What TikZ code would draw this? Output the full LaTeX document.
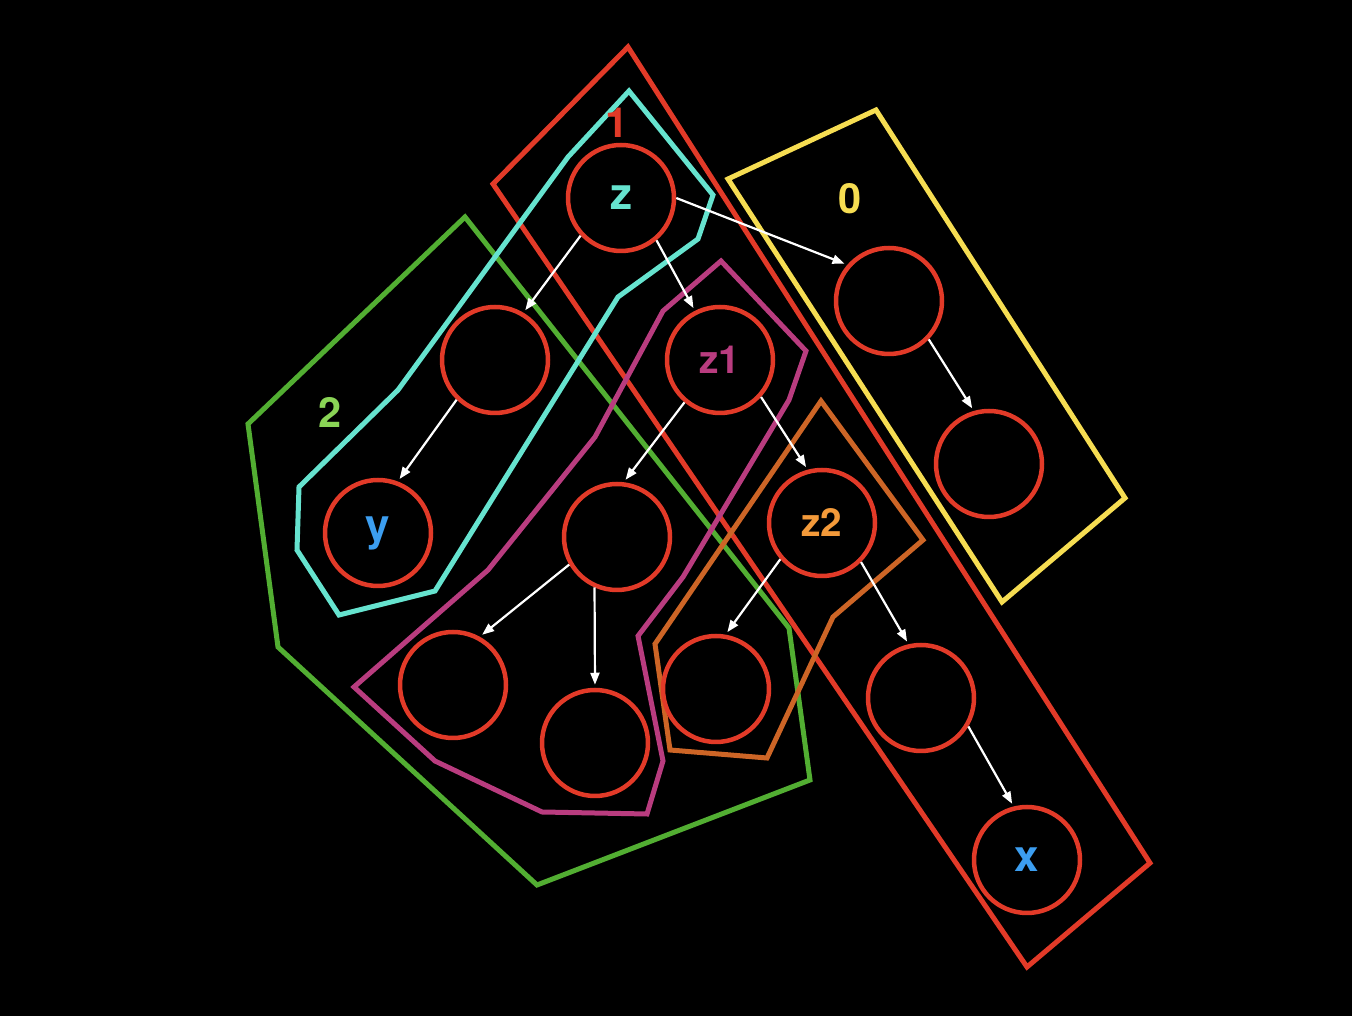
\documentclass[tikz,border=0pt]{standalone}
\usepackage{fontspec}
\setmainfont{TeX Gyre Heros}
\usetikzlibrary{arrows.meta}
\definecolor{ndred}{HTML}{E23A28}
\definecolor{grpcyan}{HTML}{66E3CF}
\definecolor{grpyellow}{HTML}{F6DD52}
\definecolor{grpgreen}{HTML}{52AE32}
\definecolor{lblgreen}{HTML}{8AD456}
\definecolor{grpmag}{HTML}{B93C7F}
\definecolor{grporange}{HTML}{CD6526}
\definecolor{lblorange}{HTML}{F39A3A}
\definecolor{lblblue}{HTML}{3C9EF0}
\tikzset{
  nd/.style     = {circle, draw=ndred, line width=0.45mm, minimum size=10.6mm,
                   inner sep=0pt, font=\fontsize{12.5}{14}\selectfont\bfseries},
  ndsm/.style   = {nd, font=\fontsize{11}{13}\selectfont\bfseries},
  grp/.style    = {line width=0.5mm, line join=miter},
  grplbl/.style = {font=\fontsize{11.8}{14}\selectfont\bfseries, inner sep=0pt},
  flow/.style   = {-{Triangle[length=1.2mm, width=0.9mm]}, draw=white,
                   line width=0.22mm, shorten >=0.3mm},
}
\begin{document}
\begin{tikzpicture}[x=0.1mm, y=-0.1mm]
    \fill[black] (0,0) rectangle (1352,1016);
    \useasboundingbox (0,0) rectangle (1352,1016);

    % Groups
    \draw[grp, draw=ndred]     (628,47) -- (1150,863) -- (1027,967) -- (493,184) -- cycle;
    \draw[grp, draw=grpyellow] (876,110) -- (1125,498) -- (1002,602) -- (728,179) -- cycle;
    \draw[grp, draw=grpgreen]  (465,217) -- (789,628) -- (810,780) -- (537,885)
                               -- (278,647) -- (248,424) -- cycle;
    \draw[grp, draw=grpcyan]   (629,91) -- (713,195) -- (698,239) -- (618,297) -- (435,591)
                               -- (339,615) -- (297,550) -- (299,487) -- (398,390)
                               -- (568,157) -- cycle;
    \draw[grp, draw=grpmag]    (721,261) -- (806,351) -- (789,400) -- (683,577) -- (638,636)
                               -- (663,761) -- (647,814) -- (542,812) -- (435,761)
                               -- (354,687) -- (488,570) -- (595,437) -- (663,311) -- cycle;
    \draw[grp, draw=grporange] (821,401) -- (923,540) -- (833,617) -- (767,758)
                               -- (670,750) -- (655,644) -- cycle;

    \node[grplbl, text=ndred]     (l1) at (617,123) {1};
    \node[grplbl, text=grpyellow] (l0) at (850,199) {0};
    \node[grplbl, text=lblgreen]  (l2) at (330,412) {2};

    % Nodes
    \node[nd, text=grpcyan]     (z)  at (621,198) {\raisebox{-0.25mm}{z}};
    \node[nd]                   (a)  at (495,360) {};
    \node[nd, text=lblblue]     (y)  at (378,533) {\raisebox{-0.25mm}{y}};
    \node[ndsm, text=grpmag]    (z1) at (720,360) {\raisebox{-0.2mm}{z1}};
    \node[nd]                   (b)  at (617,537) {};
    \node[nd]                   (c)  at (453,685) {};
    \node[nd]                   (d)  at (595,743) {};
    \node[ndsm, text=lblorange] (z2) at (822,523) {\raisebox{-0.2mm}{z2}};
    \node[nd]                   (e)  at (716,689) {};
    \node[nd]                   (f)  at (921,698) {};
    \node[nd, text=lblblue]     (x)  at (1027,860) {\raisebox{-0.25mm}{x}};
    \node[nd]                   (g)  at (889,301) {};
    \node[nd]                   (h)  at (989,464) {};

    \draw[flow] (z.223)  -- (a.59);
    \draw[flow] (z.310)  -- (z1.117);
    \draw[flow] (z.0)    -- (g.139);
    \draw[flow] (a.226)  -- (y.69);
    \draw[flow] (z1.230) -- (b.83);
    \draw[flow] (z1.318) -- (z2.105);
    \draw[flow] (b.210)  -- (c.61);
    \draw[flow] (b.246)  -- (d.north);
    \draw[flow] (z2.221) -- (e.80);
    \draw[flow] (z2.315) -- (f.103);
    \draw[flow] (f.329)  -- (x.104);
    \draw[flow] (g.316)  -- (h.106);
\end{tikzpicture}
\end{document}
